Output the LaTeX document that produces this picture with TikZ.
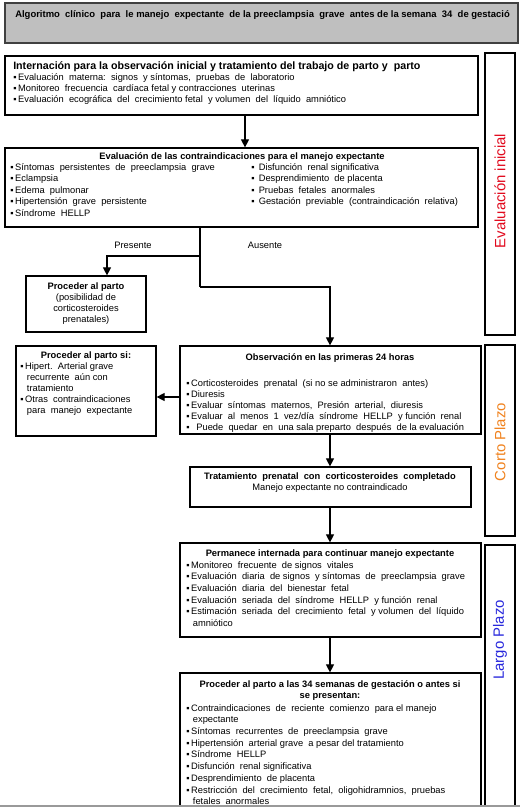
\documentclass[tikz,border=0pt]{standalone}
\usepackage{fontspec}
\setmainfont{Liberation Sans}
\usetikzlibrary{fit,arrows.meta}
\newcommand{\sqb}{▪\hspace{1.2pt}}
\newcommand{\ind}{\hspace*{5pt}}
\tikzset{
  box/.style={draw, line width=0.9pt, inner sep=0pt},
  panel/.style={draw, line width=0.8pt, inner sep=0pt},
  txt/.style={inner sep=0pt, anchor=north west, align=left, font=\fontsize{7}{8.25}\selectfont},
  ctxt/.style={inner sep=0pt, anchor=north, align=center, font=\fontsize{7}{8.25}\selectfont},
  arr/.style={-{Triangle[length=6pt,width=6pt]}, line width=0.8pt},
  side/.style={rotate=90, font=\fontsize{11.2}{13}\selectfont, inner sep=0pt}
}
\begin{document}
\begin{tikzpicture}[x=0.75pt,y=-0.75pt]
\useasboundingbox (0,0) rectangle (520,807);
\begin{scope}
\clip (0,0) rectangle (520,807);
% title
\node[draw=black!75, line width=1.4pt, fill=black!25, inner sep=0pt, fit={(5,3)(518,43)}] (t) {};
\node[txt, font=\fontsize{7.1}{8}\bfseries] (tt) at (15,10) {Algoritmo\ \ clínico\ \ para\ \ le manejo\ \ expectante\ \ de la preeclampsia\ \ grave\ \ antes de la semana\ \ 34\ \ de gestació};
% side panels
\node[panel, fit={(485,53)(515,335)}] (p1) {};
\node[side, text={rgb,255:red,225;green,10;blue,30}] (p1t) at (500,191) {Evaluación inicial};
\node[panel, fit={(485,345)(515,536)}] (p2) {};
\node[side, text={rgb,255:red,240;green,130;blue,30}] (p2t) at (500,442) {Corto Plazo};
\node[panel, fit={(485,545)(515,815)}] (p3) {};
\node[side, text={rgb,255:red,40;green,40;blue,220}] (p3t) at (500,640) {Largo Plazo};
% box 1
\node[box, fit={(5,56)(478,115)}] (b1) {};
\node[txt, font=\fontsize{8}{9.5}\bfseries] (b1h) at (13,61) {Internación para la observación inicial y tratamiento del trabajo de parto y\ \ parto};
\node[txt] (b1l) at (13,73) {\sqb Evaluación\ \ materna:\ \ signos\ \ y síntomas,\ \ pruebas\ \ de\ \ laboratorio\\
\sqb Monitoreo\ \ frecuencia\ \ cardíaca fetal y contracciones\ \ uterinas\\
\sqb Evaluación\ \ ecográfica\ \ del\ \ crecimiento fetal\ \ y volumen\ \ del\ \ líquido\ \ amniótico};
% box 2
\node[box, fit={(5,148)(478,227)}] (b2) {};
\node[ctxt, font=\fontsize{7}{8.25}\bfseries] (b2h) at (242,152) {Evaluación de las contraindicaciones para el manejo expectante};
\node[txt, font=\fontsize{7}{8.6}\selectfont] (b2l) at (10,163) {\sqb Síntomas\ \ persistentes\ \ de\ \ preeclampsia\ \ grave\\
\sqb Eclampsia\\
\sqb Edema\ \ pulmonar\\
\sqb Hipertensión\ \ grave\ \ persistente\\
\sqb Síndrome\ \ HELLP};
\node[txt, font=\fontsize{7}{8.6}\selectfont] (b2r) at (251,163) {\sqb\ Disfunción\ \ renal significativa\\
\sqb\ Desprendimiento\ \ de placenta\\
\sqb\ Pruebas\ \ fetales\ \ anormales\\
\sqb\ Gestación\ \ previable\ \ (contraindicación\ \ relativa)};
% box 3
\node[box, fit={(26,276)(146,332)}] (b3) {};
\node[ctxt, font=\fontsize{7}{8.25}\selectfont] (b3t) at (86,282) {\textbf{Proceder al parto}\\(posibilidad de\\corticosteroides\\prenatales)};
% box 4
\node[box, fit={(16,346)(156,436)}] (b4) {};
\node[ctxt, font=\fontsize{7}{8.25}\bfseries] (b4h) at (86,351) {Proceder al parto si:};
\node[txt] (b4l) at (20,362) {\sqb Hipert.\ \ Arterial grave\\
\ind recurrente\ \ aún con\\
\ind tratamiento\\
\sqb Otras\ \ contraindicaciones\\
\ind para\ \ manejo\ \ expectante};
% box 5
\node[box, fit={(180,346)(481,434)}] (b5) {};
\node[ctxt, font=\fontsize{7}{8.25}\bfseries] (b5h) at (330,353) {Observación en las primeras 24 horas};
\node[txt] (b5l) at (186,379) {\sqb Corticosteroides\ \ prenatal\ \ (si no se administraron\ \ antes)\\
\sqb Diuresis\\
\sqb Evaluar\ \ síntomas\ \ maternos,\ \ Presión\ \ arterial,\ \ diuresis\\
\sqb Evaluar\ \ al\ \ menos\ \ 1\ \ vez/día\ \ síndrome\ \ HELLP\ \ y función\ \ renal\\
\sqb\ \ Puede\ \ quedar\ \ en\ \ una sala preparto\ \ después\ \ de la evaluación};
% box 6
\node[box, fit={(190,467)(471,507)}] (b6) {};
\node[ctxt] (b6t) at (330,472) {\textbf{Tratamiento\ \ prenatal\ \ con\ \ corticosteroides\ \ completado}\\Manejo expectante no contraindicado};
% box 7
\node[box, fit={(180,543)(481,637)}] (b7) {};
\node[ctxt, font=\fontsize{7}{8.25}\bfseries] (b7h) at (330,549) {Permanece internada para continuar manejo expectante};
\node[txt, font=\fontsize{7}{8.8}\selectfont] (b7l) at (186,561) {\sqb Monitoreo\ \ frecuente\ \ de signos\ \ vitales\\
\sqb Evaluación\ \ diaria\ \ de signos\ \ y síntomas\ \ de\ \ preeclampsia\ \ grave\\
\sqb Evaluación\ \ diaria\ \ del\ \ bienestar\ \ fetal\\
\sqb Evaluación\ \ seriada\ \ del\ \ síndrome\ \ HELLP\ \ y función\ \ renal\\
\sqb Estimación\ \ seriada\ \ del\ \ crecimiento\ \ fetal\ \ y volumen\ \ del\ \ líquido\\
\ind amniótico};
% box 8
\node[box, fit={(180,673)(481,820)}] (b8) {};
\node[ctxt, font=\fontsize{7}{8.8}\bfseries] (b8h) at (330,680) {Proceder al parto a las 34 semanas de gestación o antes si\\se presentan:};
\node[txt, font=\fontsize{7}{8.8}\selectfont] (b8l) at (186,704) {\sqb Contraindicaciones\ \ de\ \ reciente\ \ comienzo\ \ para el manejo\\
\ind expectante\\
\sqb Síntomas\ \ recurrentes\ \ de\ \ preeclampsia\ \ grave\\
\sqb Hipertensión\ \ arterial grave\ \ a pesar del tratamiento\\
\sqb Síndrome\ \ HELLP\\
\sqb Disfunción\ \ renal significativa\\
\sqb Desprendimiento\ \ de placenta\\
\sqb Restricción\ \ del\ \ crecimiento\ \ fetal,\ \ oligohidramnios,\ \ pruebas\\
\ind fetales\ \ anormales};
% labels
\node[font=\fontsize{7}{8.25}\selectfont, inner sep=0pt] (lp) at (133,245) {Presente};
\node[font=\fontsize{7}{8.25}\selectfont, inner sep=0pt] (la) at (265,245) {Ausente};
% connectors
\coordinate (j1) at (200,256);
\coordinate (k1) at (107,256);
\coordinate (j2) at (200,287);
\coordinate (ay) at (0,397);
\draw[arr] (b1.south -| 245,0) -- (b2.north -| 245,0);
\draw[line width=0.8pt] (b2.south -| j1) -- (j2);
\draw[arr] (j1) -- (k1) -- (k1 |- b3.north);
\draw[arr] (j2) -| (b5.north -| 330,0);
\draw[arr] (b5.west |- ay) -- (b4.east |- ay);
\draw[arr] (b5.south -| 330,0) -- (b6.north -| 330,0);
\draw[arr] (b6.south -| 330,0) -- (b7.north -| 330,0);
\draw[arr] (b7.south -| 330,0) -- (b8.north -| 330,0);
% bottom line
\draw[black!40, line width=1pt] (0,806) -- (520,806);
\end{scope}
\end{tikzpicture}
\end{document}
